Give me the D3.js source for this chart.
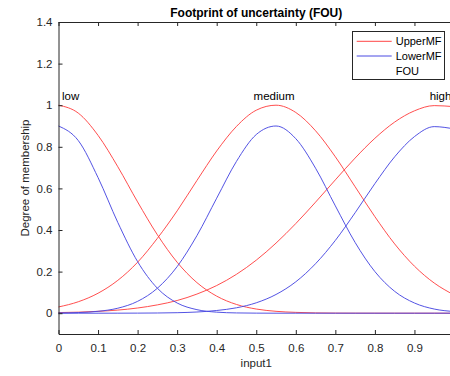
<!DOCTYPE html>
<html><head><meta charset="utf-8">
<script src="https://cdn.jsdelivr.net/npm/d3@7"></script>
<style>body{margin:0;background:#fff}svg{display:block;font-family:"Liberation Sans",Arial,Helvetica,sans-serif}</style>
</head><body><svg id="c" width="450" height="376"></svg>
<script>
// ---- data ----
const xValues = [0,0.05,0.10,0.15,0.20,0.25,0.30,0.35,0.40,0.45,0.50,0.55,0.60,0.65,0.70,0.75,0.80,0.85,0.90,0.95,1.00];
const upperLow    = [1.000,0.962,0.855,0.704,0.535,0.377,0.245,0.147,0.082,0.042,0.020,0.009,0.004,0.0014,0.0005,0.0002,0.0001,0,0,0,0];
const lowerLow    = [0.900,0.830,0.652,0.436,0.248,0.120,0.049,0.017,0.005,0.0013,0.0003,0,0,0,0,0,0,0,0,0,0];
const upperMedium = [0.030,0.055,0.096,0.158,0.245,0.360,0.492,0.638,0.780,0.898,0.976,1.000,0.965,0.877,0.752,0.608,0.464,0.333,0.226,0.145,0.088];
const lowerMedium = [0.001,0.003,0.009,0.024,0.057,0.120,0.224,0.373,0.553,0.730,0.859,0.900,0.839,0.697,0.516,0.340,0.200,0.105,0.049,0.020,0.008];
const upperHigh   = [0.003,0.005,0.009,0.015,0.025,0.040,0.061,0.092,0.133,0.187,0.255,0.337,0.431,0.534,0.641,0.746,0.841,0.919,0.973,0.998,0.993];
const lowerHigh   = [0,0,0,0.0001,0.0004,0.001,0.0024,0.0057,0.013,0.026,0.050,0.090,0.151,0.238,0.350,0.483,0.623,0.752,0.849,0.897,0.886];
const mfNames = ["low","medium","high"];
const mfPeaks = [0,0.545,0.966];
const xTicks = [0,0.1,0.2,0.3,0.4,0.5,0.6,0.7,0.8,0.9,1];
const xTickLabels = ["0","0.1","0.2","0.3","0.4","0.5","0.6","0.7","0.8","0.9",""];
const yTicks = [0,0.2,0.4,0.6,0.8,1,1.2,1.4];
const legendLabels = ["UpperMF","LowerMF","FOU"];

// ---- drawing ----
const upperColor = "#ff4545", lowerColor = "#4a4ae2", axisColor = "#262626";
const svg = d3.select("#c");
const x = d3.scaleLinear().domain([0,1]).range([58.5,454]);
const y = d3.scaleLinear().domain([-0.1,1.4]).range([334,22]);

const line = vals => d3.line().x((d,i)=>x(xValues[i])).y(d=>y(d)).curve(d3.curveMonotoneX)(vals);

const uppers = [upperLow, upperMedium, upperHigh];
const lowers = [lowerLow, lowerMedium, lowerHigh];
const g = svg.append("g");
uppers.forEach(v => g.append("path").attr("d", line(v)).attr("fill","none").attr("stroke",upperColor).attr("stroke-width",0.95));
lowers.forEach(v => g.append("path").attr("d", line(v)).attr("fill","none").attr("stroke",lowerColor).attr("stroke-width",0.95));

// axes
const fmtY = d => d3.format("~g")(d);
const ax = svg.append("g").attr("transform","translate(0,334)")
  .call(d3.axisBottom(x).tickValues(xTicks).tickFormat((d,i)=>xTickLabels[i]).tickSizeInner(-4).tickSizeOuter(0).tickPadding(10));
const ay = svg.append("g").attr("transform","translate(58.5,0)")
  .call(d3.axisLeft(y).tickValues(yTicks).tickFormat(fmtY).tickSizeInner(-4).tickSizeOuter(0).tickPadding(6));
const at = svg.append("g").attr("transform","translate(0,22)")
  .call(d3.axisTop(x).tickValues(xTicks).tickFormat("").tickSizeInner(-4).tickSizeOuter(0));
[ax,ay,at].forEach(a=>{
  a.selectAll("path,line").attr("stroke",axisColor);
  a.selectAll("text").attr("fill",axisColor).style("font-size","11.5px").style("font-family",'"Liberation Sans",Arial,sans-serif');
});

// MF labels
mfNames.forEach((n,i)=>{
  const px = x(mfPeaks[i]);
  svg.append("text").attr("x", i===0 ? px+3.5 : px).attr("y", y(1.025))
    .attr("text-anchor", i===0 ? "start" : "middle")
    .attr("fill","#000").style("font-size","11.5px").text(n);
});

// title & axis labels
svg.append("text").attr("x",(58.5+454)/2).attr("y",17).attr("text-anchor","middle")
  .style("font-size","12px").style("font-weight","bold").attr("fill","#000").text("Footprint of uncertainty (FOU)");
svg.append("text").attr("x",(58.5+454)/2).attr("y",367).attr("text-anchor","middle")
  .style("font-size","11.5px").attr("fill",axisColor).text("input1");
svg.append("text").attr("transform",`translate(29,${(22+334)/2}) rotate(-90)`).attr("text-anchor","middle")
  .style("font-size","11.5px").attr("fill",axisColor).text("Degree of membership");

// legend
const lg = svg.append("g");
lg.append("rect").attr("x",352.5).attr("y",31.5).attr("width",92).attr("height",48)
  .attr("fill","#fff").attr("stroke",axisColor).attr("stroke-width",1);
const legendColors = [upperColor, lowerColor, null];
legendLabels.forEach((t,i)=>{
  const yy = 41.3 + i*14.7;
  if (legendColors[i]) lg.append("line").attr("x1",356.7).attr("x2",391.7).attr("y1",yy).attr("y2",yy)
    .attr("stroke",legendColors[i]).attr("stroke-width",1);
  lg.append("text").attr("x",395.7).attr("y",yy+4).style("font-size","11px").attr("fill","#000").text(t);
});
</script></body></html>
